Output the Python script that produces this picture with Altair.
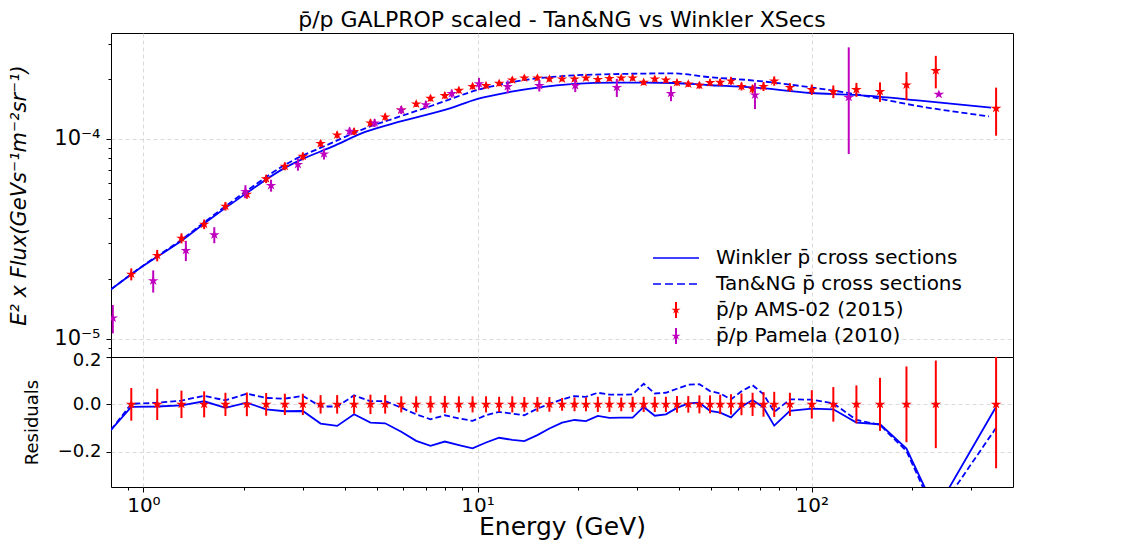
import json
import altair as alt
import pandas as pd

FONT = "DejaVu Sans"
BLUE = "#0000ff"
RED = "#ff0000"
MAGENTA = "#bf00bf"
GRID = "#d0d0d0"

# ---------------- data ----------------
ams_E = [0.92, 1.10, 1.30, 1.52, 1.76, 2.04, 2.33, 2.65, 3.00, 3.39,
         3.80, 4.27, 4.78, 5.29, 5.91, 6.55, 7.23, 7.98, 8.79, 9.66,
         10.6, 11.6, 12.7, 13.8, 15.1, 16.4, 17.9, 19.5, 21.1, 22.9,
         24.8, 26.9, 29.1, 31.4, 33.9, 36.6, 39.5, 42.7, 46.1, 49.6,
         53.2, 57.3, 61.6, 66.5, 71.7, 77.2, 86.0, 100, 116, 136,
         160, 192, 235, 356]
ams_flux = [2.104e-5, 2.612e-5, 3.184e-5, 3.741e-5, 4.603e-5, 5.284e-5, 6.310e-5, 7.295e-5, 8.185e-5, 9.484e-5,
            1.047e-4, 1.089e-4, 1.202e-4, 1.288e-4, 1.396e-4, 1.496e-4, 1.596e-4, 1.648e-4, 1.750e-4, 1.832e-4,
            1.849e-4, 1.897e-4, 1.972e-4, 2.018e-4, 2.018e-4, 1.995e-4, 1.995e-4, 1.995e-4, 2.018e-4, 1.986e-4,
            2.009e-4, 2.018e-4, 2.018e-4, 1.919e-4, 1.995e-4, 1.972e-4, 1.914e-4, 1.884e-4, 1.854e-4, 1.914e-4,
            1.919e-4, 1.950e-4, 1.832e-4, 1.778e-4, 1.832e-4, 1.950e-4, 1.811e-4, 1.766e-4, 1.726e-4, 1.766e-4,
            1.726e-4, 1.862e-4, 2.198e-4, 1.422e-4]
ams_rel_err = [0.069, 0.066, 0.058, 0.055, 0.049, 0.050, 0.048, 0.045, 0.045, 0.039,
               0.039, 0.039, 0.041, 0.039, 0.034, 0.034, 0.035, 0.036, 0.034, 0.034,
               0.034, 0.032, 0.034, 0.031, 0.031, 0.031, 0.027, 0.029, 0.029, 0.032,
               0.032, 0.029, 0.032, 0.032, 0.032, 0.032, 0.035, 0.035, 0.038, 0.038,
               0.041, 0.043, 0.046, 0.049, 0.052, 0.053, 0.049, 0.060, 0.073, 0.080,
               0.112, 0.160, 0.185, 0.270]

pam_E = [0.81, 1.07, 1.34, 1.63, 2.02, 2.41, 2.90, 3.47, 4.14, 4.92,
         5.91, 7.00, 8.37, 10.1, 12.3, 15.3, 19.6, 26.1, 37.9, 67.6,
         129, 240]
pam_flux = [1.269e-5, 1.950e-5, 2.767e-5, 3.311e-5, 5.458e-5, 5.848e-5, 7.447e-5, 8.414e-5, 1.091e-4, 1.202e-4,
            1.396e-4, 1.483e-4, 1.687e-4, 1.888e-4, 1.828e-4, 1.849e-4, 1.849e-4, 1.811e-4, 1.690e-4, 1.660e-4,
            1.614e-4, 1.671e-4]
pam_err_up = [0.162, 0.127, 0.116, 0.092, 0.075, 0.069, 0.069, 0.063, 0.046, 0.046,
              0.046, 0.046, 0.046, 0.070, 0.073, 0.066, 0.073, 0.104, 0.086, 0.150,
              0.780, 0.020]
pam_err_dn = [0.162, 0.127, 0.116, 0.092, 0.075, 0.069, 0.069, 0.063, 0.046, 0.046,
              0.046, 0.046, 0.046, 0.070, 0.073, 0.066, 0.073, 0.104, 0.086, 0.150,
              0.479, 0.020]

win_E = [0.80, 1.0, 1.3, 1.53, 2.0, 2.65, 3.0, 3.66, 4.61, 5.8,
         8.17, 10, 12.5, 15.3, 19.5, 25.7, 31.5, 38.7, 48.8, 66.8,
         99.4, 134, 211, 344]
win_flux = [1.766e-5, 2.317e-5, 3.090e-5, 3.802e-5, 5.248e-5, 7.161e-5, 7.943e-5, 9.120e-5, 1.084e-4, 1.216e-4,
            1.413e-4, 1.585e-4, 1.718e-4, 1.811e-4, 1.884e-4, 1.914e-4, 1.914e-4, 1.905e-4, 1.862e-4, 1.811e-4,
            1.698e-4, 1.660e-4, 1.556e-4, 1.435e-4]

tan_E = [0.80, 1.0, 1.3, 1.53, 2.06, 2.65, 3.66, 4.61, 5.8, 7.29,
         10, 13.8, 17.1, 25, 38.7, 48.8, 67.3, 99.4, 134, 211, 339]
tan_flux = [1.766e-5, 2.328e-5, 3.126e-5, 3.855e-5, 5.572e-5, 7.413e-5, 9.550e-5, 1.130e-4, 1.288e-4, 1.466e-4,
            1.758e-4, 1.972e-4, 2.051e-4, 2.109e-4, 2.128e-4, 2.042e-4, 1.959e-4, 1.811e-4, 1.679e-4, 1.455e-4,
            1.297e-4]

res_E = [0.80] + ams_E
win_res = [-0.108,
           -0.011, -0.009, -0.004, 0.013, -0.015, 0.007, -0.021, -0.029, -0.028, -0.081,
           -0.091, -0.042, -0.077, -0.080, -0.116, -0.154, -0.175, -0.157, -0.172, -0.186,
           -0.161, -0.141, -0.150, -0.155, -0.130, -0.102,
           -0.077, -0.066, -0.071, -0.049, -0.057, -0.056, -0.056, -0.011, -0.048, -0.042,
           -0.015, 0.004, 0.007, -0.028, -0.035, -0.055, -0.010, 0.018, -0.013, -0.090,
           -0.027, -0.018, -0.021, -0.077, -0.084, -0.187, -0.450, -0.010]
tan_res = [-0.108,
           0.002, 0.007, 0.016, 0.036, 0.017, 0.045, 0.027, 0.024, 0.036, -0.009,
           -0.009, 0.038, 0.013, 0.014, -0.014, -0.042, -0.063, -0.046, -0.059, -0.070,
           -0.046, -0.032, -0.039, -0.046, -0.018, 0.002,
           0.021, 0.035, 0.032, 0.049, 0.041, 0.041, 0.042, 0.087, 0.046, 0.049,
           0.066, 0.083, 0.085, 0.056, 0.046, 0.021, 0.055, 0.081, 0.043, -0.032,
           0.021, 0.020, 0.004, -0.066, -0.087, -0.197, -0.470, -0.099]

x_major = [1, 10, 100]
x_major_labels = ["10⁰", "10¹", "10²"]
x_minor = [0.9, 2, 3, 4, 5, 6, 7, 8, 9, 20, 30, 40, 50, 60, 70, 80, 90, 200, 300]
y_major = [1e-05, 1e-04]
y_major_labels = ["10⁻⁵", "10⁻⁴"]
y_minor = [9e-06, 2e-05, 3e-05, 4e-05, 5e-05, 6e-05, 7e-05, 8e-05, 9e-05, 2e-04, 3e-04]
res_ticks = [-0.2, 0.0, 0.2]
res_grid = [-0.2, 0.0]
res_top = [0.2]

title_text = "p̄/p GALPROP scaled - Tan&NG vs Winkler XSecs"
y_title = "E² x Flux(GeVs⁻¹m⁻²sr⁻¹)"
legend_labels = ["Winkler p̄ cross sections", "Tan&NG p̄ cross sections",
                 "p̄/p AMS-02 (2015)", "p̄/p Pamela (2010)"]

# ---------------- marker shapes ----------------
STAR = ("M0,-1L0.258,-0.309L1.094,-0.309L0.417,0.118L0.676,0.809L0,0.382"
        "L-0.676,0.809L-0.417,0.118L-1.094,-0.309L-0.258,-0.309Z")
LEG_STAR = ("M0,-0.42L0.108,-0.13L0.46,-0.13L0.175,0.05L0.284,0.34L0,0.16"
            "L-0.284,0.34L-0.175,0.05L-0.46,-0.13L-0.108,-0.13Z")
LEG_BAR = "M-0.1,-0.8H0.1V0.8H-0.1Z"
LEG_SOLID = "M-2.3,-0.08H2.3V0.08H-2.3Z"
LEG_DASH = ("M-2.3,-0.08H-1.5V0.08H-2.3Z M-1.1,-0.08H-0.3V0.08H-1.1Z "
            "M0.1,-0.08H0.9V0.08H0.1Z M1.3,-0.08H2.1V0.08H1.3Z")
legend_paths = [LEG_SOLID, LEG_DASH, LEG_STAR + " " + LEG_BAR, LEG_STAR + " " + LEG_BAR]
legend_colors = [BLUE, BLUE, RED, MAGENTA]

# ---------------- frames ----------------
win_df = pd.DataFrame({"E": win_E, "F": win_flux})
tan_df = pd.DataFrame({"E": tan_E, "F": tan_flux})
ams_df = pd.DataFrame({"E": ams_E, "F": ams_flux, "err": ams_rel_err})
ams_df["lo"] = ams_df["F"] * (1 - ams_df["err"])
ams_df["hi"] = ams_df["F"] * (1 + ams_df["err"])
ams_df["rlo"] = -ams_df["err"]
ams_df["rhi"] = ams_df["err"]
ams_df["zero"] = 0.0
pam_df = pd.DataFrame({"E": pam_E, "F": pam_flux})
pam_df["lo"] = pam_df["F"] * (1 - pd.Series(pam_err_dn))
pam_df["hi"] = pam_df["F"] * (1 + pd.Series(pam_err_up))
res_df = pd.DataFrame({"E": res_E, "win": win_res, "tan": tan_res})
legend_df = pd.DataFrame({"series": legend_labels})


def label_expr(vals, labels):
    return "".join(f"datum.value == {v!r} ? '{l}' : " for v, l in zip(vals, labels)) + "''"


def major_test(vals):
    return f"indexof({json.dumps(vals)}, datum.value) >= 0"


X_SCALE = alt.Scale(type="log", domain=[0.80, 400])
Y_TOP = alt.Scale(type="log", domain=[8.1e-6, 3.39e-4])
Y_BOT = alt.Scale(domain=[-0.349, 0.2])

grid_style = dict(gridColor=GRID, gridDash=[4, 3], gridWidth=0.8, domain=False,
                  tickColor="black", tickWidth=1, labelColor="black", labelFont=FONT,
                  titleFont=FONT, titleColor="black", titleFontWeight="normal")

top_x_axis = alt.Axis(values=x_major, labels=False, ticks=False, grid=True, title=None, **grid_style)
top_y_axis = alt.Axis(
    values=y_major + y_minor,
    labelExpr=label_expr(y_major, y_major_labels),
    labelOverlap=False,
    tickSize={"condition": {"test": major_test(y_major), "value": 5}, "value": 3},
    gridOpacity={"condition": {"test": major_test(y_major), "value": 1}, "value": 0},
    grid=True, labelFontSize=21, labelPadding=6,
    title=y_title, titleFontSize=21, titleFontStyle="italic", titlePadding=24,
    **grid_style)

bot_x_axis = alt.Axis(
    values=x_major + x_minor,
    labelExpr=label_expr(x_major, x_major_labels),
    labelOverlap=False,
    tickSize={"condition": {"test": major_test(x_major), "value": 5}, "value": 3},
    gridOpacity={"condition": {"test": major_test(x_major), "value": 1}, "value": 0},
    grid=True, labelFontSize=20, labelPadding=3,
    title="Energy (GeV)", titleFontSize=25, titlePadding=-1,
    **grid_style)
bot_y_axis = alt.Axis(values=res_ticks, format=".1f", grid=True, tickSize=5,
                      gridOpacity={"condition": {"test": major_test(res_grid), "value": 1}, "value": 0},
                      labelOffset={"condition": {"test": major_test(res_top), "value": 3}, "value": 0},
                      labelFontSize=18, labelPadding=5,
                      title="Residuals", titleFontSize=18, titlePadding=16, **grid_style)

legend = alt.Legend(title=None, orient="none", legendX=555, legendY=215,
                    labelFont=FONT, labelFontSize=20, labelColor="black", labelLimit=500,
                    symbolSize=400, symbolStrokeWidth=0, labelOffset=30, rowPadding=6,
                    padding=0)

TX = lambda f: alt.X(f, scale=X_SCALE, axis=top_x_axis)
TY = lambda f: alt.Y(f, scale=Y_TOP, axis=top_y_axis)
BX = lambda f: alt.X(f, scale=X_SCALE, axis=bot_x_axis)
BY = lambda f: alt.Y(f, scale=Y_BOT, axis=bot_y_axis)

# ---------------- top panel ----------------
win_line = alt.Chart(win_df).mark_line(color=BLUE, strokeWidth=1.8, interpolate="monotone", clip=True).encode(
    x=TX("E:Q"), y=TY("F:Q"))
tan_line = alt.Chart(tan_df).mark_line(color=BLUE, strokeWidth=1.8, strokeDash=[6, 3],
                                       interpolate="monotone", clip=True).encode(
    x=TX("E:Q"), y=TY("F:Q"))
ams_bar = alt.Chart(ams_df).mark_rule(color=RED, strokeWidth=2, clip=True).encode(
    x=TX("E:Q"), y=TY("lo:Q"), y2="hi:Q")
ams_pt = alt.Chart(ams_df).mark_point(shape=STAR, filled=True, color=RED, size=95, opacity=1, clip=True).encode(
    x=TX("E:Q"), y=TY("F:Q"))
pam_bar = alt.Chart(pam_df).mark_rule(color=MAGENTA, strokeWidth=2, clip=True).encode(
    x=TX("E:Q"), y=TY("lo:Q"), y2="hi:Q")
pam_pt = alt.Chart(pam_df).mark_point(shape=STAR, filled=True, color=MAGENTA, size=95, opacity=1, clip=True).encode(
    x=TX("E:Q"), y=TY("F:Q"))
legend_layer = alt.Chart(legend_df).mark_point(filled=True, opacity=1, clip=True).encode(
    x=alt.value(-200), y=alt.value(-200),
    shape=alt.Shape("series:N", scale=alt.Scale(domain=legend_labels, range=legend_paths), legend=legend),
    color=alt.Color("series:N", scale=alt.Scale(domain=legend_labels, range=legend_colors), legend=legend))

top = alt.layer(win_line, tan_line, ams_bar, ams_pt, pam_bar, pam_pt, legend_layer).properties(
    width=902, height=324,
    title=alt.TitleParams(title_text, font=FONT, fontSize=22, fontWeight="normal", color="black",
                          anchor="middle", frame="group", offset=1))

# ---------------- bottom panel ----------------
win_r = alt.Chart(res_df).mark_line(color=BLUE, strokeWidth=1.8, clip=True).encode(
    x=BX("E:Q"), y=BY("win:Q"))
tan_r = alt.Chart(res_df).mark_line(color=BLUE, strokeWidth=1.8, strokeDash=[6, 3], clip=True).encode(
    x=BX("E:Q"), y=BY("tan:Q"))
ams_rbar = alt.Chart(ams_df).mark_rule(color=RED, strokeWidth=2, clip=True).encode(
    x=BX("E:Q"), y=BY("rlo:Q"), y2="rhi:Q")
ams_rpt = alt.Chart(ams_df).mark_point(shape=STAR, filled=True, color=RED, size=95, opacity=1, clip=True).encode(
    x=BX("E:Q"), y=BY("zero:Q"))

bottom = alt.layer(win_r, tan_r, ams_rbar, ams_rpt).properties(width=902, height=130)

chart = alt.vconcat(top, bottom, spacing=0, bounds="flush").properties(
    padding={"left": 0, "top": 0, "right": 0, "bottom": 0},
    background="white",
).configure_view(stroke="black", strokeWidth=1)

chart.save("out.html", embed_options={"renderer": "svg", "actions": False})
